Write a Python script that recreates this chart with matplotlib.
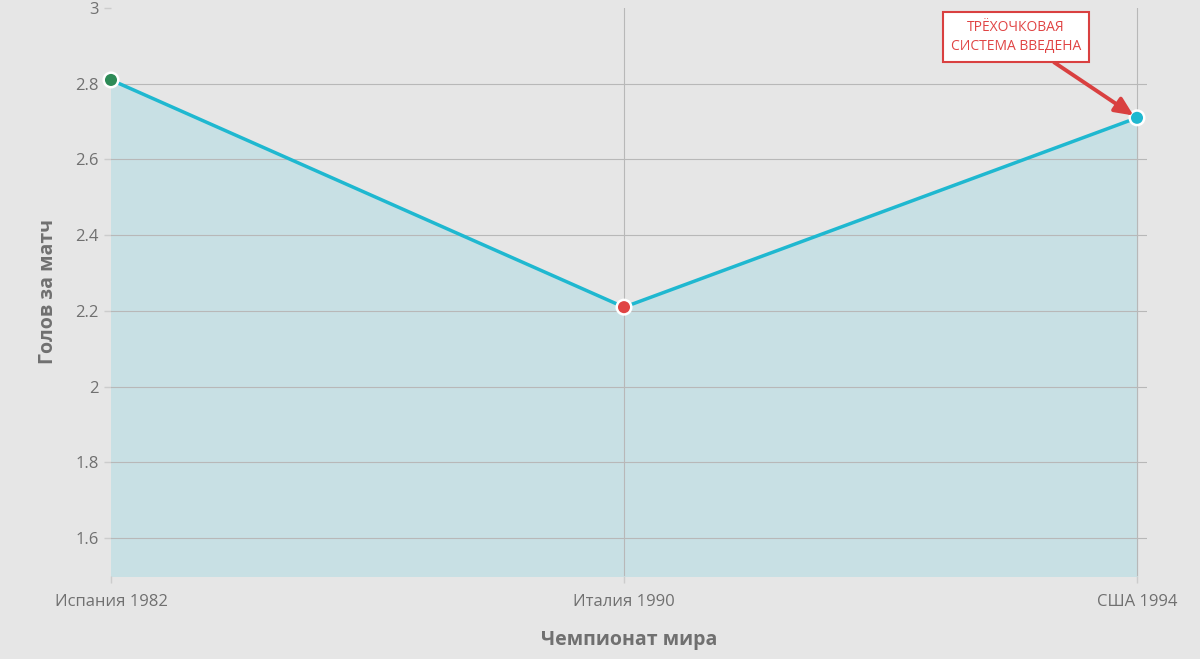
import matplotlib
matplotlib.use("Agg")
import numpy as np
from matplotlib import pyplot as plt

# данные: голов за матч на чемпионатах мира
cups = ['Испания 1982', 'Италия 1990', 'США 1994']
goals = [2.81, 2.21, 2.71]
dot_colors = ['#2e8b57', '#e04444', '#1fb8d0']
yticks = [1.6, 1.8, 2, 2.2, 2.4, 2.6, 2.8, 3]
ytick_labels = ['1.6', '1.8', '2', '2.2', '2.4', '2.6', '2.8', '3']

plt.rcParams['font.family'] = ['Open Sans', 'DejaVu Sans']

fig = plt.figure(figsize=(12, 6.59), dpi=100, facecolor='#e6e6e6')
ax = fig.add_axes([111 / 1200, 1 - 576 / 659, (1147 - 111) / 1200, (576 - 8) / 659])
ax.set_facecolor('#e6e6e6')

x = np.arange(len(cups))
ax.fill_between(x, goals, 1.5, color='#c8e0e4', zorder=1)

# сетка рисуется вручную: без линии на 3 и без вертикали у первой точки
for yv in yticks[:-1]:
    ax.axhline(yv, color='#b8b8b8', lw=0.8, zorder=2)
for xv in x[1:]:
    ax.axvline(xv, color='#b8b8b8', lw=0.8, zorder=2)

ax.plot(x, goals, color='#1fb8d0', lw=2.5, zorder=3, clip_on=False)
ax.scatter(x, goals, s=110, c=dot_colors, edgecolors='white', linewidths=1.8, zorder=4, clip_on=False)

ax.set_xlim(0, 2 + 10 / 513)
ax.set_ylim(1.5, 3)
ax.set_xticks(x)
ax.set_xticklabels(cups)
ax.set_yticks(yticks)
ax.set_yticklabels(ytick_labels)

for sp in ax.spines.values():
    sp.set_visible(False)
ax.tick_params(axis='both', colors='#cccccc', labelcolor='#707070', labelsize=12, length=5, width=1)
ax.tick_params(axis='x', pad=8)
ax.tick_params(axis='y', pad=4)

ax.set_xlabel('Чемпионат мира', fontsize=14, fontweight='bold', color='#707070', labelpad=14)
ax.set_ylabel('Голов за матч', fontsize=14, fontweight='bold', color='#707070', labelpad=12)

ax.annotate('ТРЁХОЧКОВАЯ\nСИСТЕМА ВВЕДЕНА', xy=(2, 2.71), xytext=(1.764, 2.924),
            fontsize=10, color='#e04444', ha='center', va='center', linespacing=1.4,
            bbox=dict(boxstyle='square,pad=0.55', fc='white', ec='#d94040', lw=1.5),
            arrowprops=dict(arrowstyle='-|>,head_length=1.1,head_width=0.5', color='#d94040', lw=2.8,
                            shrinkA=0, shrinkB=3),
            zorder=5)

fig.savefig('out.png', dpi=100, facecolor=fig.get_facecolor())
